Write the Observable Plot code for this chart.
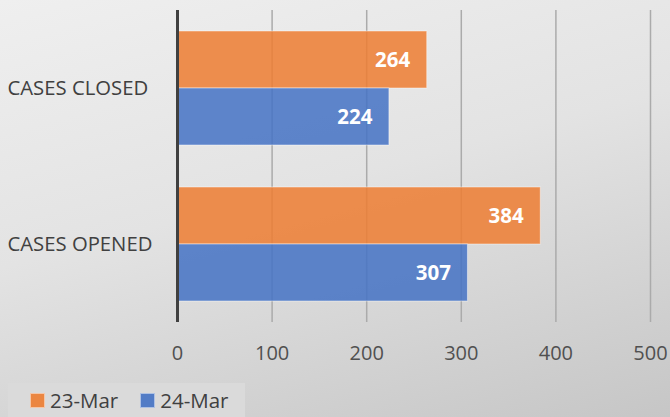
<!DOCTYPE html>
<html>
<head>
<meta charset="utf-8">
<script src="https://cdn.jsdelivr.net/npm/d3@7"></script>
<script src="https://cdn.jsdelivr.net/npm/@observablehq/plot@0.6"></script>
<style>
  html, body { margin: 0; padding: 0; }
  body {
    width: 670px; height: 417px; overflow: hidden; position: relative;
    background: linear-gradient(165deg, #efefef 0%, #e3e3e3 45%, #c6c6c6 100%);
    font-family: "Open Sans", sans-serif;
  }
  #legend {
    position: absolute; left: 8px; top: 383px; width: 237px; height: 34px;
    background: #dadada; display: flex; align-items: center;
    font-size: 20.5px; color: #404040;
  }
  .item { display: flex; align-items: center; }
  .sw { width: 13px; height: 13px; border: 1px solid rgba(255,255,255,0.55); margin-right: 5px; }
</style>
</head>
<body>
<div id="chart"></div>
<div id="legend"></div>
<script>
const categories = ["CASES CLOSED", "CASES OPENED"];
const series = ["23-Mar", "24-Mar"];
const values23Mar = [264, 384];
const values24Mar = [224, 307];
const xTicks = [0, 100, 200, 300, 400, 500];
const gridTicks = [100, 200, 300, 400, 500];
const colors = ["#ED7D31", "#4472C4"];

const rows = [];
categories.forEach((c, i) => {
  rows.push({category: c, series: series[0], value: values23Mar[i]});
  rows.push({category: c, series: series[1], value: values24Mar[i]});
});

const chart = Plot.plot({
  width: 670,
  height: 383,
  marginLeft: 177,
  marginRight: 20,
  marginTop: 10,
  marginBottom: 61,
  style: {background: "transparent", fontFamily: "Open Sans, sans-serif"},
  x: {domain: [0, 500], ticks: xTicks, axis: null},
  y: {domain: series, paddingInner: 0, paddingOuter: 0.345, axis: null},
  fy: {domain: categories, padding: 0, axis: null},
  color: {domain: series, range: colors},
  marks: [
    Plot.ruleX(gridTicks, {stroke: "#ababab", strokeWidth: 1.5}),
    Plot.barX(rows, {
      fy: "category", y: "series", x: "value", fill: "series",
      fillOpacity: 0.85, stroke: "white", strokeOpacity: 0.45, strokeWidth: 1
    }),
    Plot.text(rows, {
      fy: "category", y: "series", x: "value", text: d => String(d.value),
      textAnchor: "end", dx: -17, fill: "white", fontWeight: "bold", fontSize: 20.5
    }),
    Plot.ruleX([0], {stroke: "#404040", strokeWidth: 3}),
    Plot.text(categories, {
      fy: d => d, text: d => d, frameAnchor: "left", textAnchor: "start",
      dx: -170, fill: "#404040", fontSize: 20.3
    }),
    Plot.axisX({
      ticks: xTicks, tickSize: 0, tickPadding: 23, fontSize: 20,
      color: "#505050", tickFormat: d => String(d), anchor: "bottom", label: null
    })
  ]
});
document.getElementById("chart").appendChild(chart);

const legend = document.getElementById("legend");
series.forEach((s, i) => {
  const item = document.createElement("div");
  item.className = "item";
  item.style.marginLeft = "22px";
  const sw = document.createElement("div");
  sw.className = "sw";
  sw.style.background = colors[i];
  sw.style.opacity = 0.9;
  const label = document.createElement("span");
  label.textContent = s;
  item.appendChild(sw);
  item.appendChild(label);
  legend.appendChild(item);
});
</script>
</body>
</html>
